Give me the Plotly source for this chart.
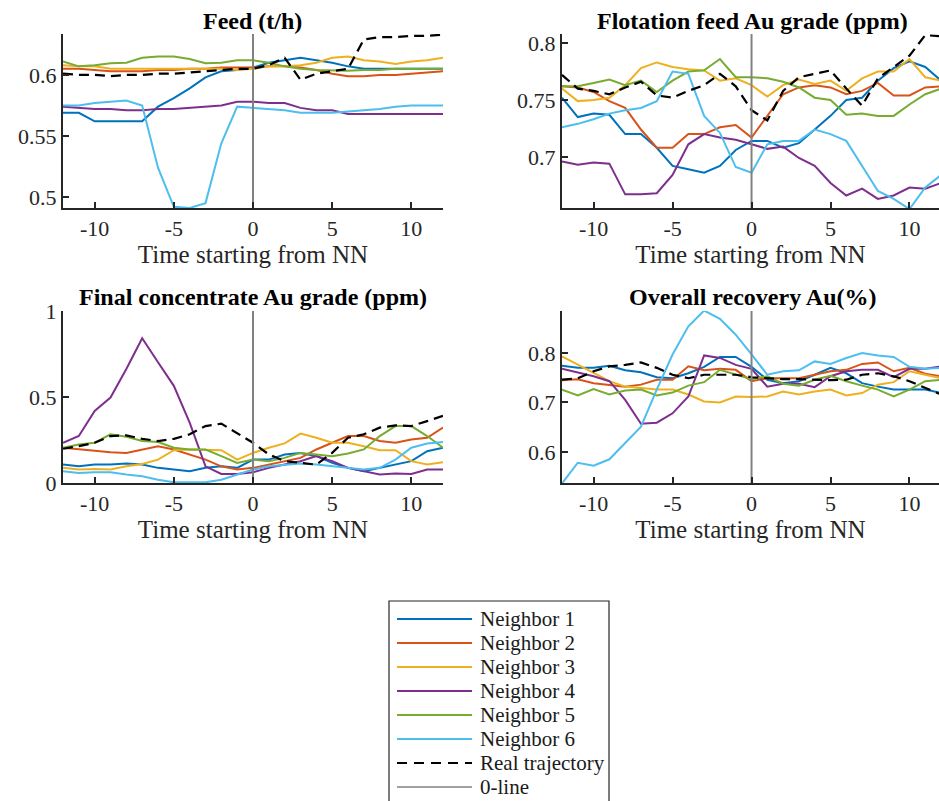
import plotly.graph_objects as go

# ---------------- data ----------------
t = list(range(-12, 13))
series_names = ["Neighbor 1", "Neighbor 2", "Neighbor 3", "Neighbor 4",
                "Neighbor 5", "Neighbor 6", "Real trajectory"]
legend_labels = series_names + ["0-line"]

feed_n1 = [0.569, 0.569, 0.562, 0.562, 0.562, 0.562, 0.574, 0.581, 0.589, 0.598, 0.603, 0.604, 0.606,
           0.610, 0.612, 0.614, 0.612, 0.610, 0.607, 0.605, 0.605, 0.605, 0.605, 0.605, 0.605]
feed_n2 = [0.605, 0.605, 0.604, 0.603, 0.603, 0.603, 0.604, 0.604, 0.605, 0.605, 0.606, 0.606, 0.606,
           0.607, 0.607, 0.606, 0.604, 0.601, 0.599, 0.599, 0.600, 0.600, 0.601, 0.602, 0.603]
feed_n3 = [0.608, 0.607, 0.607, 0.605, 0.605, 0.605, 0.605, 0.605, 0.605, 0.605, 0.605, 0.604, 0.605,
           0.607, 0.607, 0.608, 0.610, 0.614, 0.615, 0.612, 0.611, 0.609, 0.611, 0.612, 0.614]
feed_n4 = [0.574, 0.573, 0.572, 0.572, 0.571, 0.571, 0.572, 0.572, 0.573, 0.574, 0.575, 0.578, 0.578,
           0.577, 0.577, 0.573, 0.571, 0.571, 0.568, 0.568, 0.568, 0.568, 0.568, 0.568, 0.568]
feed_n5 = [0.611, 0.607, 0.608, 0.6095, 0.610, 0.614, 0.615, 0.615, 0.613, 0.6095, 0.610, 0.612, 0.612,
           0.610, 0.607, 0.605, 0.604, 0.6035, 0.6035, 0.604, 0.604, 0.605, 0.605, 0.605, 0.605]
feed_n6 = [0.575, 0.575, 0.577, 0.578, 0.579, 0.575, 0.524, 0.492, 0.491, 0.495, 0.544, 0.574, 0.573,
           0.572, 0.571, 0.569, 0.569, 0.569, 0.570, 0.571, 0.572, 0.574, 0.575, 0.575, 0.575]
feed_real = [0.601, 0.600, 0.600, 0.599, 0.600, 0.600, 0.601, 0.601, 0.602, 0.603, 0.604, 0.605, 0.605,
             0.608, 0.614, 0.596, 0.601, 0.603, 0.605, 0.629, 0.631, 0.631, 0.632, 0.632, 0.633]

flot_n1 = [0.752, 0.735, 0.738, 0.737, 0.720, 0.720, 0.708, 0.692, 0.689, 0.686, 0.692, 0.706, 0.714,
           0.714, 0.708, 0.712, 0.724, 0.736, 0.750, 0.752, 0.767, 0.778, 0.784, 0.779, 0.767]
flot_n2 = [0.762, 0.761, 0.757, 0.749, 0.743, 0.724, 0.708, 0.708, 0.720, 0.720, 0.726, 0.728, 0.717,
           0.736, 0.755, 0.761, 0.763, 0.761, 0.755, 0.758, 0.765, 0.754, 0.754, 0.761, 0.762]
flot_n3 = [0.760, 0.749, 0.750, 0.752, 0.763, 0.778, 0.783, 0.779, 0.777, 0.776, 0.767, 0.769, 0.763,
           0.753, 0.763, 0.768, 0.764, 0.767, 0.758, 0.769, 0.775, 0.775, 0.786, 0.770, 0.767]
flot_n4 = [0.696, 0.693, 0.695, 0.694, 0.667, 0.667, 0.668, 0.684, 0.711, 0.720, 0.717, 0.715, 0.711,
           0.707, 0.709, 0.699, 0.692, 0.677, 0.666, 0.672, 0.663, 0.666, 0.673, 0.672, 0.677]
flot_n5 = [0.762, 0.762, 0.765, 0.768, 0.763, 0.767, 0.757, 0.767, 0.775, 0.776, 0.786, 0.770, 0.770,
           0.769, 0.766, 0.761, 0.752, 0.750, 0.737, 0.738, 0.736, 0.736, 0.746, 0.755, 0.760]
flot_n6 = [0.726, 0.729, 0.733, 0.738, 0.741, 0.743, 0.749, 0.775, 0.773, 0.736, 0.721, 0.691, 0.686,
           0.711, 0.714, 0.714, 0.724, 0.720, 0.714, 0.692, 0.670, 0.663, 0.654, 0.673, 0.684]
flot_real = [0.772, 0.760, 0.758, 0.755, 0.761, 0.766, 0.754, 0.752, 0.758, 0.763, 0.773, 0.762, 0.741,
             0.732, 0.758, 0.770, 0.773, 0.776, 0.760, 0.745, 0.769, 0.779, 0.789, 0.807, 0.806]

conc_n1 = [0.107, 0.097, 0.107, 0.107, 0.113, 0.107, 0.088, 0.078, 0.068, 0.088, 0.097, 0.088, 0.136,
           0.136, 0.166, 0.175, 0.156, 0.117, 0.088, 0.068, 0.088, 0.107, 0.127, 0.185, 0.205]
conc_n2 = [0.205, 0.195, 0.185, 0.179, 0.175, 0.195, 0.214, 0.195, 0.166, 0.136, 0.097, 0.078, 0.088,
           0.107, 0.127, 0.146, 0.195, 0.234, 0.273, 0.273, 0.244, 0.234, 0.253, 0.263, 0.322]
conc_n3 = [0.088, 0.078, 0.082, 0.078, 0.097, 0.111, 0.136, 0.191, 0.195, 0.191, 0.191, 0.136, 0.175,
           0.205, 0.230, 0.287, 0.263, 0.234, 0.234, 0.214, 0.191, 0.191, 0.127, 0.107, 0.121]
conc_n4 = [0.234, 0.273, 0.419, 0.497, 0.663, 0.842, 0.702, 0.565, 0.351, 0.097, 0.053, 0.053, 0.062,
           0.088, 0.107, 0.127, 0.156, 0.127, 0.088, 0.068, 0.049, 0.055, 0.053, 0.078, 0.078]
conc_n5 = [0.205, 0.224, 0.234, 0.283, 0.269, 0.244, 0.238, 0.205, 0.195, 0.195, 0.156, 0.117, 0.136,
           0.127, 0.146, 0.175, 0.166, 0.156, 0.172, 0.195, 0.273, 0.331, 0.331, 0.273, 0.205]
conc_n6 = [0.068, 0.058, 0.062, 0.062, 0.049, 0.039, 0.019, 0.004, 0.004, 0.004, 0.019, 0.049, 0.078,
           0.097, 0.107, 0.113, 0.107, 0.097, 0.088, 0.078, 0.088, 0.136, 0.205, 0.230, 0.238]
conc_real = [0.199, 0.214, 0.234, 0.273, 0.277, 0.257, 0.244, 0.257, 0.283, 0.331, 0.345, 0.292, 0.234,
             0.166, 0.127, 0.117, 0.107, 0.175, 0.263, 0.283, 0.322, 0.335, 0.331, 0.360, 0.390]

rec_n1 = [0.774, 0.770, 0.770, 0.774, 0.765, 0.761, 0.751, 0.749, 0.759, 0.772, 0.792, 0.792, 0.772,
          0.746, 0.739, 0.743, 0.756, 0.770, 0.759, 0.739, 0.732, 0.726, 0.726, 0.726, 0.719]
rec_n2 = [0.745, 0.747, 0.739, 0.736, 0.732, 0.736, 0.746, 0.746, 0.773, 0.765, 0.768, 0.766, 0.743,
          0.749, 0.749, 0.749, 0.756, 0.763, 0.766, 0.778, 0.781, 0.763, 0.770, 0.758, 0.753]
rec_n3 = [0.793, 0.776, 0.759, 0.743, 0.732, 0.729, 0.726, 0.726, 0.716, 0.702, 0.700, 0.712, 0.711,
          0.712, 0.722, 0.716, 0.722, 0.726, 0.714, 0.719, 0.736, 0.741, 0.763, 0.756, 0.749]
rec_n4 = [0.768, 0.761, 0.753, 0.743, 0.705, 0.657, 0.659, 0.678, 0.712, 0.795, 0.790, 0.776, 0.768,
          0.732, 0.738, 0.738, 0.731, 0.753, 0.763, 0.766, 0.766, 0.751, 0.768, 0.768, 0.773]
rec_n5 = [0.726, 0.714, 0.727, 0.716, 0.724, 0.726, 0.714, 0.720, 0.734, 0.741, 0.766, 0.756, 0.747,
          0.753, 0.738, 0.734, 0.746, 0.754, 0.743, 0.734, 0.726, 0.712, 0.726, 0.743, 0.746]
rec_n6 = [0.536, 0.578, 0.572, 0.585, 0.618, 0.651, 0.726, 0.797, 0.854, 0.886, 0.869, 0.837, 0.797,
          0.756, 0.763, 0.765, 0.783, 0.778, 0.790, 0.800, 0.795, 0.792, 0.772, 0.768, 0.770]
rec_real = [0.746, 0.749, 0.763, 0.773, 0.776, 0.781, 0.770, 0.756, 0.749, 0.756, 0.756, 0.756, 0.751,
            0.749, 0.747, 0.747, 0.746, 0.745, 0.746, 0.756, 0.759, 0.753, 0.743, 0.729, 0.716]

panel_titles = ["Feed (t/h)", "Flotation feed Au grade (ppm)",
                "Final concentrate Au grade (ppm)", "Overall recovery Au(%)"]
x_title = "Time starting from NN"
x_tickvals = [-10, -5, 0, 5, 10]
x_ticktext = ["-10", "-5", "0", "5", "10"]
y_tickvals = [[0.5, 0.55, 0.6], [0.7, 0.75, 0.8], [0, 0.5, 1], [0.6, 0.7, 0.8]]
y_ticktext = [["0.5", "0.55", "0.6"], ["0.7", "0.75", "0.8"], ["0", "0.5", "1"], ["0.6", "0.7", "0.8"]]
y_ranges = [[0.491, 0.6335], [0.655, 0.808], [0.0, 1.0], [0.537, 0.885]]
zero_line = [0, 0]

panels = [
    [feed_n1, feed_n2, feed_n3, feed_n4, feed_n5, feed_n6, feed_real],
    [flot_n1, flot_n2, flot_n3, flot_n4, flot_n5, flot_n6, flot_real],
    [conc_n1, conc_n2, conc_n3, conc_n4, conc_n5, conc_n6, conc_real],
    [rec_n1, rec_n2, rec_n3, rec_n4, rec_n5, rec_n6, rec_real],
]

# ---------------- styling ----------------
colors = ["#0072BD", "#D95319", "#EDB120", "#7E2F8E", "#77AC30", "#4DBEEE", "black"]
zero_color = "#828282"
W, H = 939, 801
FONT = "'Liberation Serif', 'Times New Roman', Times, 'DejaVu Serif', serif"
AX = "#262626"

# pixel boxes: (left, right, top, bottom)
boxes = [(63, 443, 34, 208), (562, 939, 34, 208), (63, 443, 311, 483), (562, 939, 311, 483)]
x_ranges = [[-12, 12], [-12, 11.87], [-12, 12], [-12, 11.87]]
title_cx = [253, 752, 253, 752]
title_cy = [21, 21, 297, 297]

fig = go.Figure()
for p in range(4):
    sfx = "" if p == 0 else str(p + 1)
    for k, name in enumerate(series_names):
        fig.add_trace(go.Scatter(
            x=t, y=panels[p][k], mode="lines", name=name,
            xaxis="x" + sfx, yaxis="y" + sfx,
            line=dict(color=colors[k], width=2.2 if k == 6 else 2,
                      dash="10px,6px" if k == 6 else "solid"),
            showlegend=False, hoverinfo="skip"))
    fig.add_trace(go.Scatter(
        x=zero_line, y=y_ranges[p], mode="lines", name="0-line",
        xaxis="x" + sfx, yaxis="y" + sfx,
        line=dict(color=zero_color, width=2),
        showlegend=False, hoverinfo="skip"))

layout = dict(
    width=W, height=H,
    margin=dict(l=0, r=0, t=0, b=0, autoexpand=False),
    paper_bgcolor="white", plot_bgcolor="white",
    font=dict(family=FONT, color=AX),
    showlegend=False,
    annotations=[], shapes=[],
)
for p in range(4):
    l, r, tp, bt = boxes[p]
    sfx = "" if p == 0 else str(p + 1)
    layout["xaxis" + sfx] = dict(
        domain=[l / W, r / W], range=x_ranges[p], anchor="y" + sfx,
        showline=True, linecolor=AX, linewidth=2, mirror=False,
        ticks="inside", ticklen=6, tickwidth=1.5, tickcolor=AX,
        tickvals=x_tickvals, ticktext=x_ticktext,
        tickfont=dict(family=FONT, size=22, color=AX),
        showgrid=False, zeroline=False,
        title=dict(text=x_title, font=dict(family=FONT, size=25, color=AX), standoff=1),
    )
    layout["yaxis" + sfx] = dict(
        domain=[1 - bt / H, 1 - tp / H], range=y_ranges[p], anchor="x" + sfx,
        showline=True, linecolor=AX, linewidth=2, mirror=False,
        ticks="inside", ticklen=6, tickwidth=1.5, tickcolor=AX,
        tickvals=y_tickvals[p], ticktext=y_ticktext[p],
        tickfont=dict(family=FONT, size=22, color=AX),
        showgrid=False, zeroline=False,
    )
    layout["annotations"].append(dict(
        text="<b>" + panel_titles[p] + "</b>", xref="paper", yref="paper",
        x=title_cx[p] / W, y=1 - title_cy[p] / H, xanchor="center", yanchor="middle",
        showarrow=False, font=dict(family=FONT, size=24, color="black")))

# ---------------- legend box (drawn in paper pixels) ----------------
LG_L, LG_T, LG_R, LG_B = 389, 601, 609, 815
layout["shapes"].append(dict(type="rect", xref="paper", yref="paper",
                             x0=LG_L / W, x1=LG_R / W, y0=1 - LG_B / H, y1=1 - LG_T / H,
                             line=dict(color=AX, width=1.2), fillcolor="white", layer="above"))
legend_colors = colors + [zero_color]
legend_widths = [2] * 6 + [2.2, 1.5]
for i, lab in enumerate(legend_labels):
    yc = 619 + 24 * i
    layout["shapes"].append(dict(
        type="line", xref="paper", yref="paper",
        x0=397 / W, x1=472 / W, y0=1 - yc / H, y1=1 - yc / H, layer="above",
        line=dict(color=legend_colors[i], width=legend_widths[i],
                  dash="10px,7px" if lab == "Real trajectory" else "solid")))
    layout["annotations"].append(dict(
        text=lab, xref="paper", yref="paper", x=478 / W, y=1 - yc / H,
        xanchor="left", yanchor="middle", showarrow=False,
        font=dict(family=FONT, size=21, color="#1a1a1a")))

fig.update_layout(**layout)
fig.write_html("out.html")
